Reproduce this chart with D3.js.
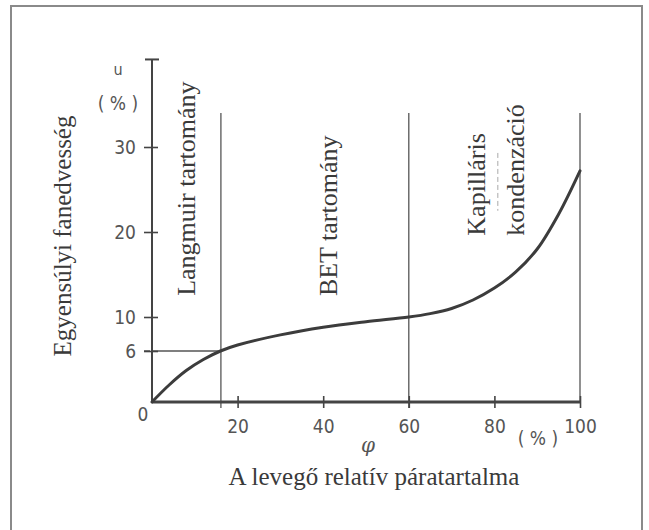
<!DOCTYPE html>
<html>
<head>
<meta charset="utf-8">
<script src="https://cdn.jsdelivr.net/npm/d3@7"></script>
<style>
  body { margin: 0; background: #fff; }
  svg { display: block; }
  .serif { font-family: "Liberation Serif", "DejaVu Serif", serif; fill: #3a3a3a; }
  .tick text, .num { font-family: "DejaVu Sans Condensed", "DejaVu Sans", sans-serif; fill: #555; }
</style>
</head>
<body>
<svg id="chart" width="649" height="530"></svg>
<script>
// relativ paratartalom (%) es egyensulyi fanedvesseg (%)
var phi = [0, 4, 8, 12, 16, 20, 30, 40, 50, 60, 65, 70, 75, 80, 85, 90, 95, 100];
var moisture = [0, 2.0, 3.7, 5.0, 6.0, 6.7, 7.9, 8.8, 9.45, 10.0, 10.4, 11.0, 12.0, 13.4, 15.3, 18.0, 22.1, 27.2];

var xTicks = [20, 40, 60, 80, 100];
var yTicks = [6, 10, 20, 30];
var yTop = 40.3;             // y tengely teteje
var regionBounds = [16.1, 60, 100];  // tartomany hatarok
var regionTop = 34;
var langmuirPoint = [16.1, 6];

var regionLabels = [
  { text: "Langmuir tartomány", phi: 8, u: 25.1 },
  { text: "BET tartomány", phi: 41.2, u: 21.9 },
  { text: "Kapilláris", phi: 75.7, u: 25.6 },
  { text: "kondenzáció", phi: 84.8, u: 27.3 }
];

var svg = d3.select("#chart");

var x = d3.scaleLinear().domain([0, 100]).range([152, 580]);
var y = d3.scaleLinear().domain([0, 30]).range([402, 147]);

// keret
svg.append("rect")
  .attr("x", 11).attr("y", 6)
  .attr("width", 631).attr("height", 540)
  .attr("fill", "none")
  .attr("stroke", "#8a8a8a")
  .attr("stroke-width", 2);

// tartomany vonalak
svg.selectAll(".region")
  .data(regionBounds)
  .enter().append("line")
  .attr("class", "region")
  .attr("x1", function(d) { return x(d); })
  .attr("x2", function(d) { return x(d); })
  .attr("y1", y(regionTop))
  .attr("y2", function(d) { return d == 100 ? y(0) : y(0) + 6; })
  .attr("stroke", "#555")
  .attr("stroke-width", 1.3);

// 6%-os vizszintes vonal
svg.append("line")
  .attr("x1", x(0) - 8).attr("x2", x(langmuirPoint[0]))
  .attr("y1", y(langmuirPoint[1])).attr("y2", y(langmuirPoint[1]))
  .attr("stroke", "#555")
  .attr("stroke-width", 1.5)
  .attr("stroke-dasharray", "6,3,60,0");

// y tengely
svg.append("line")
  .attr("x1", x(0)).attr("x2", x(0))
  .attr("y1", y(0)).attr("y2", y(yTop))
  .attr("stroke", "#444").attr("stroke-width", 2);
svg.append("line")
  .attr("x1", x(0) - 7).attr("x2", x(0) + 7)
  .attr("y1", y(yTop)).attr("y2", y(yTop))
  .attr("stroke", "#444").attr("stroke-width", 2);

var yAxis = svg.append("g")
  .attr("transform", "translate(" + (x(0) + 6) + ",0)")
  .call(d3.axisLeft(y).tickValues(yTicks).tickSize(14).tickPadding(8));
yAxis.select(".domain").remove();
yAxis.selectAll(".tick line").attr("stroke", "#444").attr("stroke-width", 1.6);
yAxis.selectAll(".tick text").attr("font-size", 19);

// x tengely
svg.append("line")
  .attr("x1", x(0)).attr("x2", x(100))
  .attr("y1", y(0)).attr("y2", y(0))
  .attr("stroke", "#444").attr("stroke-width", 3);

var xAxis = svg.append("g")
  .attr("transform", "translate(0," + (y(0) - 6) + ")")
  .call(d3.axisBottom(x).tickValues(xTicks).tickSize(12).tickPadding(12));
xAxis.select(".domain").remove();
xAxis.selectAll(".tick line").attr("stroke", "#444").attr("stroke-width", 1.6);
xAxis.selectAll(".tick text").attr("font-size", 19);

svg.append("text").attr("class", "num")
  .attr("x", x(0) - 9).attr("y", y(0) + 19)
  .attr("text-anchor", "middle")
  .attr("font-size", 19)
  .text("0");

// gorbe
var line = d3.line()
  .x(function(d) { return x(d[0]); })
  .y(function(d) { return y(d[1]); })
  .curve(d3.curveCatmullRom.alpha(0.5));

svg.append("path")
  .datum(d3.zip(phi, moisture))
  .attr("d", line)
  .attr("fill", "none")
  .attr("stroke", "#3c3c3c")
  .attr("stroke-width", 3)
  .attr("stroke-linecap", "round");

// feliratok
svg.selectAll(".regionLabel")
  .data(regionLabels)
  .enter().append("text")
  .attr("class", "serif regionLabel")
  .attr("text-anchor", "middle")
  .attr("font-size", 26)
  .attr("dy", "0.35em")
  .attr("transform", function(d) {
    return "translate(" + x(d.phi) + "," + y(d.u) + ") rotate(-90)";
  })
  .text(function(d) { return d.text; });

// halvany vonal a Kapillaris felirat mellett
svg.append("line")
  .attr("x1", x(80.8)).attr("x2", x(80.8))
  .attr("y1", y(29.3)).attr("y2", y(22.5))
  .attr("stroke", "#aaa").attr("stroke-width", 1)
  .attr("stroke-dasharray", "5,3");

svg.append("text")
  .attr("class", "serif")
  .attr("text-anchor", "middle")
  .attr("font-size", 25)
  .attr("dy", "0.35em")
  .attr("transform", "translate(62,236) rotate(-90)")
  .text("Egyensúlyi fanedvesség");

svg.append("text")
  .attr("class", "serif")
  .attr("x", 374).attr("y", 485)
  .attr("text-anchor", "middle")
  .attr("font-size", 25)
  .text("A levegő relatív páratartalma");

svg.append("text")
  .attr("class", "num")
  .attr("x", 118).attr("y", 75)
  .attr("text-anchor", "middle")
  .attr("font-size", 16)
  .text("u");

svg.append("text")
  .attr("class", "num")
  .attr("x", 118).attr("y", 110)
  .attr("text-anchor", "middle")
  .attr("font-size", 19)
  .text("( % )");

svg.append("text")
  .attr("class", "num")
  .attr("x", 538).attr("y", 445)
  .attr("text-anchor", "middle")
  .attr("font-size", 19)
  .text("( % )");

svg.append("text")
  .attr("x", 368).attr("y", 452)
  .attr("text-anchor", "middle")
  .attr("font-size", 20)
  .attr("font-style", "italic")
  .attr("font-family", "'DejaVu Serif', serif")
  .attr("fill", "#555")
  .text("φ");
</script>
</body>
</html>
